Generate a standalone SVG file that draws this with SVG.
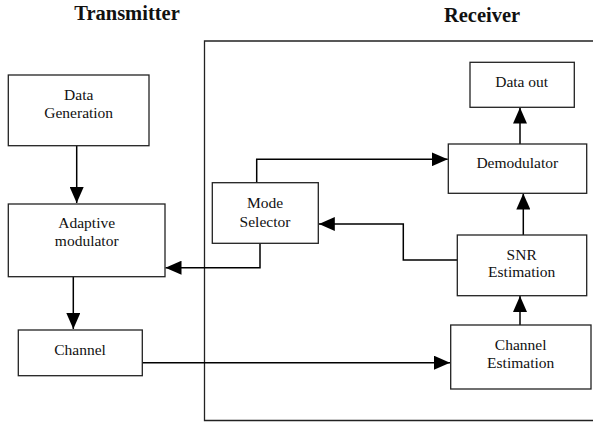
<svg xmlns="http://www.w3.org/2000/svg" width="593" height="423" viewBox="0 0 593 423">
<style>
.box{fill:#fff;stroke:#222;stroke-width:1.3}
.t{font-family:"Liberation Serif","Times New Roman",serif;font-size:15.5px;fill:#111;text-anchor:middle}
.h{font-family:"Liberation Serif","Times New Roman",serif;font-size:20.5px;font-weight:bold;fill:#111;text-anchor:middle}
.c{fill:none;stroke:#000;stroke-width:1.5}
</style>
<defs>
<marker id="a" markerUnits="userSpaceOnUse" markerWidth="16" markerHeight="14" viewBox="0 0 16 14" refX="16" refY="7" orient="auto">
<path d="M0,0 L16,7 L0,14 Z" fill="#000"/>
</marker>
</defs>
<text class="h" x="127" y="20">Transmitter</text>
<text class="h" x="482" y="21.5">Receiver</text>
<path d="M593,41 H204.5 V420.5 H593" fill="none" stroke="#222" stroke-width="1.3"/>
<g id="connectors">
<line class="c" x1="76.7" y1="145.7" x2="76.7" y2="203" marker-end="url(#a)"/>
<line class="c" x1="73.3" y1="276.7" x2="73.3" y2="329" marker-end="url(#a)"/>
<polyline class="c" points="142.3,362.7 450,362.7" marker-end="url(#a)"/>
<polyline class="c" points="256.7,182.7 256.7,159.3 447.7,159.3" marker-end="url(#a)"/>
<polyline class="c" points="260,243.3 260,267.7 165.5,267.7" marker-end="url(#a)"/>
<line class="c" x1="520" y1="144" x2="520" y2="107.5" marker-end="url(#a)"/>
<line class="c" x1="523.3" y1="235" x2="523.3" y2="193.5" marker-end="url(#a)"/>
<polyline class="c" points="457.3,260 403.3,260 403.3,224 318.8,224" marker-end="url(#a)"/>
<line class="c" x1="520" y1="325" x2="520" y2="296" marker-end="url(#a)"/>
</g>
<g id="data-generation">
<rect class="box" x="8.3" y="75" width="140.7" height="70.7"/>
<text class="t" x="78.7" y="100">Data</text>
<text class="t" x="78.7" y="118">Generation</text>
</g>
<g id="adaptive-modulator">
<rect class="box" x="8.3" y="204" width="156.7" height="72.7"/>
<text class="t" x="86.7" y="228.3">Adaptive</text>
<text class="t" x="86.7" y="246">modulator</text>
</g>
<g id="channel">
<rect class="box" x="18.3" y="330" width="124" height="45.7"/>
<text class="t" x="80" y="355">Channel</text>
</g>
<g id="mode-selector">
<rect class="box" x="212.3" y="182.7" width="106" height="60.6"/>
<text class="t" x="265" y="207.5">Mode</text>
<text class="t" x="265" y="226.7">Selector</text>
</g>
<g id="data-out">
<rect class="box" x="470" y="62.3" width="104.3" height="45"/>
<text class="t" x="521.7" y="86.7">Data out</text>
</g>
<g id="demodulator">
<rect class="box" x="448.3" y="144" width="138.4" height="49.3"/>
<text class="t" x="517.3" y="168.3">Demodulator</text>
</g>
<g id="snr-estimation">
<rect class="box" x="457.3" y="235" width="129.4" height="60.7"/>
<text class="t" x="521.7" y="260">SNR</text>
<text class="t" x="521.7" y="277.3">Estimation</text>
</g>
<g id="channel-estimation">
<rect class="box" x="450.7" y="325" width="140.3" height="64"/>
<text class="t" x="520.7" y="350">Channel</text>
<text class="t" x="520.7" y="367.7">Estimation</text>
</g>
</svg>
